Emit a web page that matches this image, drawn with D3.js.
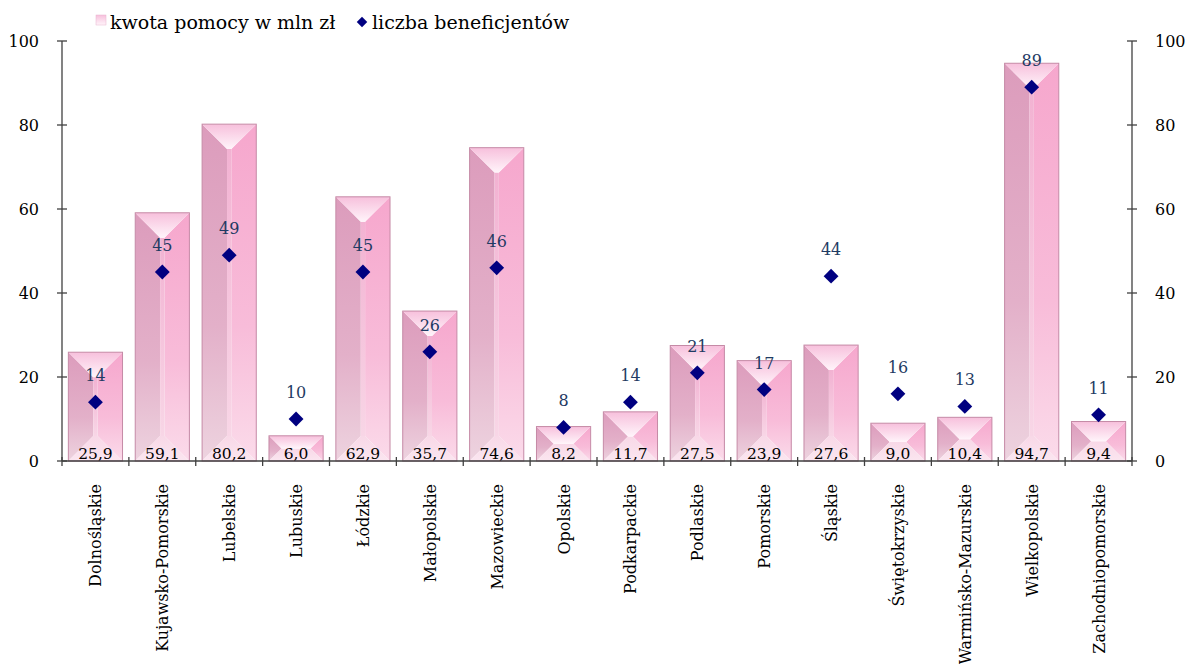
<!DOCTYPE html>
<html><head><meta charset="utf-8">
<script src="https://cdn.jsdelivr.net/npm/d3@7"></script>
<style>
html,body{margin:0;padding:0;background:#fff;}
svg{display:block;font-family:"DejaVu Serif",serif;}
</style></head>
<body><svg id="c" width="1186" height="664"></svg>
<script>
const categories = ["Dolnośląskie","Kujawsko-Pomorskie","Lubelskie","Lubuskie","Łódzkie","Małopolskie","Mazowieckie","Opolskie","Podkarpackie","Podlaskie","Pomorskie","Śląskie","Świętokrzyskie","Warmińsko-Mazurskie","Wielkopolskie","Zachodniopomorskie"];
const kwota = [25.9,59.1,80.2,6.0,62.9,35.7,74.6,8.2,11.7,27.5,23.9,27.6,9.0,10.4,94.7,9.4];
const beneficjenci = [14,45,49,10,45,26,46,8,14,21,17,44,16,13,89,11];
const yTicks = [0,20,40,60,80,100];
const seriesNames = ["kwota pomocy w mln zł","liczba beneficjentów"];

const svg = d3.select("#c");
const L = 62, R = 1132, T = 41, B = 461;
const x = d3.scaleBand().domain(categories).range([L,R]).paddingInner(0.19).paddingOuter(0.095);
const y = d3.scaleLinear().domain([0,100]).range([B,T]);

const defs = svg.append("defs");
function lg(id, stops, vert=true){
  const g = defs.append("linearGradient").attr("id",id).attr("x1",0).attr("y1",0)
    .attr("x2",vert?0:1).attr("y2",vert?1:0).attr("gradientUnits","objectBoundingBox");
  stops.forEach(s=>g.append("stop").attr("offset",s[0]).attr("stop-color",s[1]));
}
lg("gLeft",[[0,"#dc9cbc"],[0.6,"#e3b0c9"],[1,"#edd3df"]]);
lg("gRight",[[0,"#f6a7cd"],[0.6,"#f8bcd9"],[1,"#fbdbea"]]);
lg("gTop",[[0,"#f7c0dc"],[1,"#fff4fa"]]);
lg("gBottom",[[0,"#f8d8e7"],[1,"#fbe6f0"]]);
lg("gInner",[[0,"#f2b2d2"],[1,"#f8d6e6"]]);

// bars
const bars = svg.append("g");
categories.forEach((c,i)=>{
  const x0 = x(c), x1 = x0 + x.bandwidth(), y0 = y(kwota[i]), y1 = y(0);
  const w = x1-x0, h = y1-y0;
  const d = Math.min(w*0.46, h/2);
  const cx0 = x0+d, cx1 = x1-d, cy0 = y0+d, cy1 = y1-d;
  const g = bars.append("g");
  const poly = (pts,fill)=>g.append("polygon").attr("points",pts.map(p=>p.join(",")).join(" ")).attr("fill",fill);
  poly([[x0,y0],[cx0,cy0],[cx0,cy1],[x0,y1]],"url(#gLeft)");
  poly([[x1,y0],[cx1,cy0],[cx1,cy1],[x1,y1]],"url(#gRight)");
  if (cx1>cx0) { poly([[cx0,cy0],[cx1,cy0],[cx1,cy1],[cx0,cy1]],"url(#gInner)"); }
  poly([[x0,y1],[cx0,cy1],[cx1,cy1],[x1,y1]],"url(#gBottom)");
  poly([[x0,y0],[x1,y0],[cx1,cy0],[cx0,cy0]],"url(#gTop)");
  g.append("rect").attr("x",x0).attr("y",y0).attr("width",w).attr("height",h)
    .attr("fill","none").attr("stroke","#c58aa6").attr("stroke-width",1);
});

// axes lines
const axisColor = "#404040";
const ax = svg.append("g").attr("stroke",axisColor).attr("stroke-width",1.3).attr("fill","none");
ax.append("line").attr("x1",L).attr("x2",L).attr("y1",T).attr("y2",B);
ax.append("line").attr("x1",R).attr("x2",R).attr("y1",T).attr("y2",B);
ax.append("line").attr("x1",L).attr("x2",R).attr("y1",B).attr("y2",B);
yTicks.forEach(t=>{
  ax.append("line").attr("x1",L-5).attr("x2",L+5).attr("y1",y(t)).attr("y2",y(t));
  ax.append("line").attr("x1",R-5).attr("x2",R+5).attr("y1",y(t)).attr("y2",y(t));
});
const bounds = d3.range(categories.length+1).map(k=>L + k*(R-L)/categories.length);
bounds.forEach(bx=>ax.append("line").attr("x1",bx).attr("x2",bx).attr("y1",B-4).attr("y2",B+5));

// tick labels
const tl = svg.append("g").attr("font-size",16).attr("fill","#000");
yTicks.forEach(t=>{
  tl.append("text").attr("x",L-23).attr("y",y(t)).attr("dy","0.35em").attr("text-anchor","end").text(t);
  tl.append("text").attr("x",R+23).attr("y",y(t)).attr("dy","0.35em").attr("text-anchor","start").text(t);
});
categories.forEach(c=>{
  const cx = x(c)+x.bandwidth()/2;
  tl.append("text").attr("transform",`translate(${cx+6},484) rotate(-90)`)
    .attr("text-anchor","end").text(c);
});

// bar value labels
const bl = svg.append("g").attr("font-size",15.5).attr("fill","#000").attr("text-anchor","middle");
categories.forEach((c,i)=>{
  bl.append("text").attr("x",x(c)+x.bandwidth()/2).attr("y",B-2).text(d3.format(".1f")(kwota[i]).replace(".",","));
});

// diamonds
const dm = svg.append("g");
categories.forEach((c,i)=>{
  const cx = x(c)+x.bandwidth()/2, cy = y(beneficjenci[i]);
  dm.append("path").attr("d",d3.symbol().type(d3.symbolSquare).size(110)()).attr("transform",`translate(${cx},${cy}) rotate(45)`).attr("fill","#000080");
  dm.append("text").attr("x",cx).attr("y",cy-21).attr("text-anchor","middle").attr("font-size",16).attr("fill","#1f3b63").text(beneficjenci[i]);
});

// legend
const leg = svg.append("g").attr("font-size",19).attr("fill","#000");
leg.append("rect").attr("x",96).attr("y",15).attr("width",10).attr("height",10).attr("fill","url(#gTop)").attr("stroke","#e8b5cf").attr("stroke-width",0.5);
leg.append("text").attr("x",110).attr("y",29).text(seriesNames[0]);
leg.append("path").attr("d",d3.symbol().type(d3.symbolSquare).size(55)()).attr("transform","translate(362,22) rotate(45)").attr("fill","#000080");
leg.append("text").attr("x",372).attr("y",29).text(seriesNames[1]);
</script></body></html>
